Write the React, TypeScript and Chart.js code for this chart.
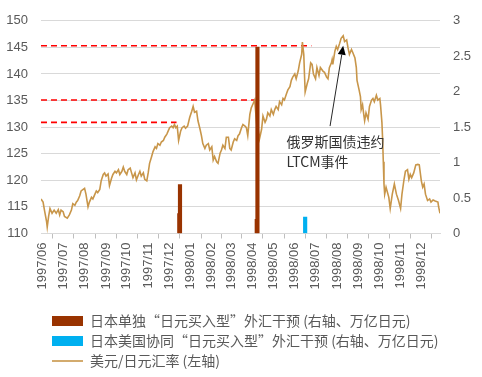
import React, { useEffect, useRef } from 'react';
import { Chart, registerables } from 'chart.js';

Chart.register(...registerables);

// ---------- data ----------
const TICK_LABELS = [
  '1997/06', '1997/07', '1997/08', '1997/09', '1997/10', '1997/11', '1997/12',
  '1998/01', '1998/02', '1998/03', '1998/04', '1998/05', '1998/06', '1998/07',
  '1998/08', '1998/09', '1998/10', '1998/11', '1998/12',
];
const AXIS_START = '1997-05-30';
const AXIS_END = '1998-12-28';

const RATE_LABEL = '美元/日元汇率 (左轴)';
const RATE_DATES = [
  '1997-05-30', '1997-06-02', '1997-06-04', '1997-06-07', '1997-06-08', '1997-06-10', '1997-06-12', '1997-06-15',
  '1997-06-18', '1997-06-21', '1997-06-24', '1997-06-26', '1997-06-28', '1997-07-01', '1997-07-03', '1997-07-07',
  '1997-07-10', '1997-07-13', '1997-07-15', '1997-07-18', '1997-07-20', '1997-07-22', '1997-07-25', '1997-07-27',
  '1997-07-30', '1997-08-01', '1997-08-03', '1997-08-06', '1997-08-08', '1997-08-11', '1997-08-13', '1997-08-16',
  '1997-08-18', '1997-08-20', '1997-08-23', '1997-08-25', '1997-08-28', '1997-08-30', '1997-09-01', '1997-09-04',
  '1997-09-06', '1997-09-09', '1997-09-11', '1997-09-14', '1997-09-16', '1997-09-19', '1997-09-21', '1997-09-24',
  '1997-09-26', '1997-09-28', '1997-10-01', '1997-10-03', '1997-10-06', '1997-10-08', '1997-10-10', '1997-10-13',
  '1997-10-15', '1997-10-18', '1997-10-20', '1997-10-22', '1997-10-25', '1997-10-27', '1997-10-30', '1997-11-01',
  '1997-11-03', '1997-11-06', '1997-11-08', '1997-11-11', '1997-11-13', '1997-11-15', '1997-11-18', '1997-11-20',
  '1997-11-23', '1997-11-25', '1997-11-28', '1997-11-30', '1997-12-02', '1997-12-05', '1997-12-07', '1997-12-09',
  '1997-12-11', '1997-12-13', '1997-12-15', '1997-12-18', '1997-12-20', '1997-12-23', '1997-12-25', '1997-12-28',
  '1997-12-31', '1998-01-03', '1998-01-05', '1998-01-07', '1998-01-10', '1998-01-12', '1998-01-15', '1998-01-17',
  '1998-01-19', '1998-01-22', '1998-01-24', '1998-01-27', '1998-01-29', '1998-02-01', '1998-02-03', '1998-02-05',
  '1998-02-08', '1998-02-10', '1998-02-13', '1998-02-15', '1998-02-17', '1998-02-20', '1998-02-22', '1998-02-25',
  '1998-02-27', '1998-03-01', '1998-03-04', '1998-03-06', '1998-03-09', '1998-03-11', '1998-03-13', '1998-03-16',
  '1998-03-18', '1998-03-21', '1998-03-23', '1998-03-25', '1998-03-28', '1998-03-30', '1998-04-02', '1998-04-04',
  '1998-04-07', '1998-04-09', '1998-04-11', '1998-04-14', '1998-04-16', '1998-04-19', '1998-04-21', '1998-04-23',
  '1998-04-26', '1998-04-28', '1998-05-01', '1998-05-03', '1998-05-05', '1998-05-08', '1998-05-10', '1998-05-13',
  '1998-05-15', '1998-05-17', '1998-05-20', '1998-05-22', '1998-05-25', '1998-05-27', '1998-05-29', '1998-06-01',
  '1998-06-03', '1998-06-06', '1998-06-08', '1998-06-11', '1998-06-12', '1998-06-14', '1998-06-15', '1998-06-16',
  '1998-06-19', '1998-06-21', '1998-06-24', '1998-06-26', '1998-06-28', '1998-07-01', '1998-07-03', '1998-07-06',
  '1998-07-08', '1998-07-12', '1998-07-14', '1998-07-17', '1998-07-19', '1998-07-21', '1998-07-24', '1998-07-25',
  '1998-07-26', '1998-07-29', '1998-07-31', '1998-08-02', '1998-08-05', '1998-08-07', '1998-08-10', '1998-08-12',
  '1998-08-15', '1998-08-17', '1998-08-19', '1998-08-22', '1998-08-24', '1998-08-27', '1998-08-29', '1998-08-30',
  '1998-09-02', '1998-09-04', '1998-09-05', '1998-09-07', '1998-09-09', '1998-09-10', '1998-09-12', '1998-09-15',
  '1998-09-17', '1998-09-20', '1998-09-22', '1998-09-24', '1998-09-27', '1998-09-29', '1998-10-02', '1998-10-03',
  '1998-10-05', '1998-10-06', '1998-10-07', '1998-10-08', '1998-10-09', '1998-10-11', '1998-10-15', '1998-10-17',
  '1998-10-20', '1998-10-23', '1998-10-26', '1998-10-29', '1998-11-01', '1998-11-03', '1998-11-06', '1998-11-08',
  '1998-11-11', '1998-11-13', '1998-11-15', '1998-11-17', '1998-11-20', '1998-11-23', '1998-11-26', '1998-11-28',
  '1998-12-01', '1998-12-03', '1998-12-05', '1998-12-07', '1998-12-10', '1998-12-13', '1998-12-15', '1998-12-18',
  '1998-12-21', '1998-12-25', '1998-12-26', '1998-12-28',
];
const RATE_VALUES = [
  116.5, 115.9, 114.4, 112.3, 111.2, 113.2, 114.7, 113.8,
  114.4, 113.8, 114.5, 113.5, 114.4, 114.1, 113.2, 112.9,
  113.5, 114.4, 115.6, 115.3, 115.9, 116.2, 117.1, 118.0,
  118.3, 118.5, 117.4, 115.0, 115.9, 116.8, 116.5, 117.4,
  118.0, 117.7, 118.3, 119.9, 121.1, 121.4, 120.8, 121.2,
  119.0, 120.4, 121.1, 121.7, 121.4, 122.0, 121.1, 121.7,
  122.5, 121.7, 121.1, 122.0, 122.3, 121.4, 120.5, 121.4,
  120.1, 121.1, 121.7, 120.8, 121.4, 120.2, 119.9, 121.4,
  123.2, 124.5, 125.4, 126.3, 126.0, 126.9, 126.6, 127.2,
  127.5, 128.1, 128.7, 129.3, 129.9, 130.2, 129.9, 130.5,
  129.9, 130.2, 127.5, 129.3, 129.9, 130.2, 129.8, 130.2,
  131.8, 133.0, 133.9, 132.8, 133.0, 131.2, 129.6, 128.4,
  126.9, 126.0, 126.6, 126.9, 125.7, 126.3, 123.8, 124.5,
  123.5, 123.2, 125.1, 125.7, 126.6, 126.0, 128.1, 128.1,
  126.0, 125.7, 127.2, 127.8, 127.5, 128.4, 128.7, 129.9,
  130.5, 130.2, 129.9, 128.4, 132.4, 133.6, 134.5, 135.1,
  130.5, 129.6, 127.8, 129.6, 132.1, 130.9, 131.5, 132.7,
  132.1, 133.3, 132.4, 133.3, 133.9, 133.3, 134.8, 134.2,
  135.4, 135.1, 136.3, 137.0, 137.6, 138.8, 139.4, 140.0,
  139.1, 140.6, 142.1, 143.7, 146.0, 143.7, 140.0, 136.6,
  138.2, 139.1, 142.1, 141.8, 140.0, 139.1, 141.2, 139.7,
  141.2, 140.5, 140.3, 139.4, 139.1, 141.2, 142.1, 142.7,
  141.8, 144.3, 145.2, 144.6, 145.8, 146.7, 147.2, 146.1,
  146.4, 144.9, 143.7, 144.6, 144.0, 143.0, 141.2, 138.8,
  137.0, 135.7, 133.3, 134.2, 132.1, 131.2, 132.7, 131.5,
  133.9, 135.1, 135.4, 134.8, 136.0, 135.1, 135.4, 134.2,
  130.9, 127.8, 123.5, 119.3, 117.4, 118.7, 116.8, 114.7,
  117.4, 119.3, 117.4, 116.2, 114.7, 117.4, 120.2, 121.7,
  122.0, 120.2, 121.1, 120.5, 121.4, 122.9, 123.0, 122.9,
  119.9, 118.7, 119.3, 117.4, 116.2, 116.5, 115.9, 116.3,
  116.1, 115.9, 115.0, 113.8,
];

const SOLO_LABEL = '日本单独“日元买入型”外汇干预 (右轴、万亿日元)';
const SOLO_DATES = ['1997-12-16', '1997-12-17', '1998-04-07', '1998-04-08'];
const SOLO_VALUES = [0.28, 0.69, 0.2, 2.63];

const JOINT_LABEL = '日本美国协同“日元买入型”外汇干预 (右轴、万亿日元)';
const JOINT_DATES = ['1998-06-16'];
const JOINT_VALUES = [0.23];

const LEVEL_VALUES = [145.3, 135.1, 130.9];
const LEVEL_END_DATES = ['1998-06-25', '1998-04-05', '1997-12-12'];

const NOTE_LINES = ['俄罗斯国债违约', 'LTCM事件'];
const NOTE_DATE = '1998-05-20';
const NOTE_VALUE = 127.2;
const ARROW_FROM_DATE = '1998-07-22';
const ARROW_FROM_VALUE = 130.2;
const ARROW_TO_DATE = '1998-08-10';
const ARROW_TO_VALUE = 145.3;

// ---------- styles ----------
const SOLO_COLOR = '#993300';
const JOINT_COLOR = '#00B0F0';
const RATE_COLOR = '#C8964A';
const LEVEL_COLOR = '#FF0000';
const TEXT_COLOR = '#595959';
const GRID_COLOR = '#D9D9D9';
const TICK_FONT = { family: 'Liberation Sans', size: 13 };
const LEGEND_FONT = { family: 'Noto Sans CJK SC', size: 14 };

const BASE = Date.UTC(1997, 5, 1);
function dayOf(s: string): number {
  const p = s.split(/[-\/]/).map(Number);
  return (Date.UTC(p[0], p[1] - 1, p[2] || 1) - BASE) / 86400000;
}

const annotationPlugin = {
  id: 'noteArrow',
  afterDatasetsDraw(chart: any) {
    const { ctx } = chart;
    const xs = chart.scales.x;
    const ys = chart.scales.y;
    const x1 = xs.getPixelForValue(dayOf(ARROW_FROM_DATE));
    const y1 = ys.getPixelForValue(ARROW_FROM_VALUE);
    const x2 = xs.getPixelForValue(dayOf(ARROW_TO_DATE));
    const y2 = ys.getPixelForValue(ARROW_TO_VALUE);
    const ang = Math.atan2(y2 - y1, x2 - x1);
    const head = 9;
    const half = 4;
    const bx = x2 - head * Math.cos(ang);
    const by = y2 - head * Math.sin(ang);
    ctx.save();
    ctx.strokeStyle = '#262626';
    ctx.fillStyle = '#000000';
    ctx.lineWidth = 1;
    ctx.beginPath();
    ctx.moveTo(x1, y1);
    ctx.lineTo(bx, by);
    ctx.stroke();
    ctx.beginPath();
    ctx.moveTo(x2, y2);
    ctx.lineTo(bx + half * Math.sin(ang), by - half * Math.cos(ang));
    ctx.lineTo(bx - half * Math.sin(ang), by + half * Math.cos(ang));
    ctx.closePath();
    ctx.fill();
    ctx.fillStyle = '#333333';
    ctx.font = `${LEGEND_FONT.size}px "${LEGEND_FONT.family}"`;
    ctx.textAlign = 'left';
    ctx.textBaseline = 'middle';
    const tx = xs.getPixelForValue(dayOf(NOTE_DATE));
    const ty = ys.getPixelForValue(NOTE_VALUE);
    NOTE_LINES.forEach((line, i) => ctx.fillText(line, tx, ty + i * 20));
    ctx.restore();
  },
};

const legendShift = {
  id: 'legendShift',
  afterLayout(chart: any) {
    const lg = chart.legend;
    if (lg) {
      lg.left += 46;
      lg.right += 46;
      lg.top += 1;
      lg.bottom += 1;
    }
  },
};

export default function App() {
  const ref = useRef<HTMLCanvasElement>(null);

  useEffect(() => {
    if (!ref.current) return;
    Chart.defaults.font.family = 'Liberation Sans';

    const rateData = RATE_DATES.map((d, i) => ({ x: dayOf(d), y: RATE_VALUES[i] }));
    const soloData = SOLO_DATES.map((d, i) => ({ x: dayOf(d), y: SOLO_VALUES[i] }));
    const jointData = JOINT_DATES.map((d, i) => ({ x: dayOf(d), y: JOINT_VALUES[i] }));
    const levelSets = LEVEL_VALUES.map((v, i) => ({
      type: 'line' as const,
      label: '',
      data: [
        { x: dayOf(AXIS_START), y: v },
        { x: dayOf(LEVEL_END_DATES[i]), y: v },
      ],
      yAxisID: 'y',
      borderColor: LEVEL_COLOR,
      borderWidth: 1.6,
      borderDash: [6, 4],
      pointRadius: 0,
      order: 2,
    }));

    const chart = new Chart(ref.current, {
      type: 'line',
      data: {
        datasets: [
          {
            type: 'bar',
            label: SOLO_LABEL,
            data: soloData,
            yAxisID: 'y1',
            backgroundColor: SOLO_COLOR,
            barThickness: 3.5,
            grouped: false,
            order: 0,
          } as any,
          {
            type: 'bar',
            label: JOINT_LABEL,
            data: jointData,
            yAxisID: 'y1',
            backgroundColor: JOINT_COLOR,
            barThickness: 3.5,
            grouped: false,
            order: 0,
          } as any,
          {
            type: 'line',
            label: RATE_LABEL,
            data: rateData,
            yAxisID: 'y',
            borderColor: RATE_COLOR,
            borderWidth: 1.6,
            pointRadius: 0,
            tension: 0,
            order: 1,
          },
          ...levelSets,
        ],
      },
      options: {
        responsive: false,
        animation: false,
        devicePixelRatio: 1,
        layout: { padding: { top: 18.7, left: 0, right: 0, bottom: 0 } },
        plugins: {
          tooltip: { enabled: false },
          legend: {
            position: 'bottom',
            align: 'start',
            labels: {
              usePointStyle: true,
              pointStyleWidth: 31,
              boxWidth: 31,
              boxHeight: 10,
              padding: 6,
              color: TEXT_COLOR,
              font: LEGEND_FONT,
              generateLabels: () => [
                { text: SOLO_LABEL, fillStyle: SOLO_COLOR, strokeStyle: SOLO_COLOR, lineWidth: 0, pointStyle: 'rect', fontColor: TEXT_COLOR, hidden: false, datasetIndex: 0 },
                { text: JOINT_LABEL, fillStyle: JOINT_COLOR, strokeStyle: JOINT_COLOR, lineWidth: 0, pointStyle: 'rect', fontColor: TEXT_COLOR, hidden: false, datasetIndex: 1 },
                { text: RATE_LABEL, fillStyle: 'rgba(0,0,0,0)', strokeStyle: RATE_COLOR, lineWidth: 1.6, pointStyle: 'line', fontColor: TEXT_COLOR, hidden: false, datasetIndex: 2 },
              ] as any,
            },
          },
        },
        scales: {
          x: {
            type: 'linear',
            min: dayOf(AXIS_START),
            max: dayOf(AXIS_END),
            offset: false,
            afterBuildTicks: (s: any) => {
              s.ticks = TICK_LABELS.map((l) => ({ value: dayOf(l) }));
            },
            afterFit: (s: any) => {
              s.height = 73.5;
            },
            ticks: {
              autoSkip: false,
              minRotation: 90,
              maxRotation: 90,
              padding: 4,
              color: TEXT_COLOR,
              font: TICK_FONT,
              callback: (_v: any, i: number) => TICK_LABELS[i],
            },
            grid: { drawOnChartArea: false, drawTicks: true, tickLength: 5, color: '#BFBFBF' },
            border: { display: true, color: GRID_COLOR },
          },
          y: {
            type: 'linear',
            position: 'left',
            min: 110,
            max: 150,
            afterFit: (s: any) => {
              s.width = 41;
            },
            ticks: { stepSize: 5, padding: 13, color: TEXT_COLOR, font: TICK_FONT, callback: (v: any) => String(v) },
            grid: { color: GRID_COLOR, drawTicks: false, lineWidth: 1 },
            border: { display: false },
          },
          y1: {
            type: 'linear',
            position: 'right',
            min: 0,
            max: 3,
            afterFit: (s: any) => {
              s.width = 42;
            },
            ticks: { stepSize: 0.5, padding: 13, color: TEXT_COLOR, font: TICK_FONT, callback: (v: any) => String(v) },
            grid: { drawOnChartArea: false, drawTicks: false },
            border: { display: false },
          },
        },
      },
      plugins: [annotationPlugin, legendShift],
    } as any);

    return () => chart.destroy();
  }, []);

  return (
    <div style={{ position: 'absolute', left: 0, top: 0, width: 482, height: 377, background: '#fff' }}>
      <canvas ref={ref} width={482} height={377} style={{ display: 'block', width: 482, height: 377 }} />
    </div>
  );
}
